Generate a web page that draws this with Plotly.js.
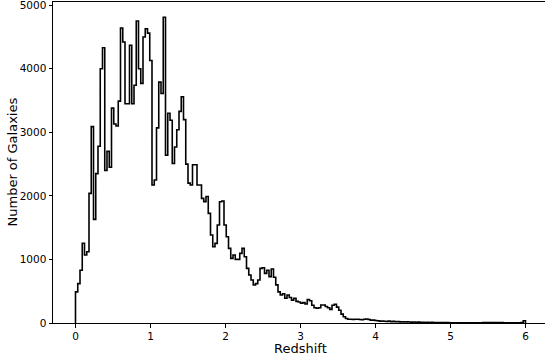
<!DOCTYPE html>
<html>
<head>
<meta charset="utf-8">
<script src="https://cdn.plot.ly/plotly-3.0.1.min.js"></script>
<style>
html,body{margin:0;padding:0;overflow:hidden;background:#fff;}
#chart{width:548px;height:360px;}
</style>
</head>
<body>
<div id="chart"></div>
<script>
// Histogram of redshift: 200 bins from 0 to 6 (width 0.03)
const binStart = 0;
const binWidth = 0.03;
const counts = [
  490, 620, 830, 1255, 1070, 1120, 2040, 3090, 1630, 2350,
  2780, 4000, 4330, 2400, 2700, 2450, 3380, 3130, 3100, 3490,
  4640, 4420, 3450, 3450, 4370, 3450, 3740, 4750, 4000, 3770,
  4500, 4630, 4560, 4130, 2170, 2250, 3070, 3790, 3610, 4810,
  2640, 3300, 3190, 2510, 2770, 3040, 3330, 3560, 3200, 2500,
  2200, 2170, 2490, 2490, 2170, 2170, 1960, 1910, 1990, 1725,
  1384, 1200, 1253, 1541, 1908, 1920, 1541, 1357, 1174, 1017,
  1069, 1001, 1001, 1096, 1174, 1043, 860, 755, 676, 597,
  620, 676, 860, 870, 780, 830, 730, 850, 720, 600,
  490, 440, 460, 390, 440, 400, 360, 390, 340, 330,
  310, 320, 300, 370, 350, 280, 240, 231, 240, 283,
  283, 260, 240, 215, 280, 294, 250, 200, 140, 99,
  70, 60, 58, 55, 58, 60, 55, 50, 58, 62,
  55, 45, 45, 40, 35, 30, 32, 28, 25, 30,
  22, 25, 20, 22, 18, 20, 16, 18, 15, 14,
  15, 12, 14, 10, 12, 9, 11, 8, 10, 7,
  9, 8, 6, 7, 8, 6, 5, 5, 4, 5,
  4, 3, 4, 4, 3, 3, 4, 3, 2, 3,
  5, 6, 8, 7, 9, 8, 6, 7, 8, 6,
  5, 4, 4, 3, 3, 2, 3, 2, 8, 35
];
const xTicks = [0, 1, 2, 3, 4, 5, 6];
const yTicks = [0, 1000, 2000, 3000, 4000, 5000];
const xLabel = "Redshift";
const yLabel = "Number of Galaxies";

// step outline (matplotlib histtype='step')
const xs = [binStart];
const ys = [0];
for (let i = 0; i < counts.length; i++) {
  xs.push(binStart + i * binWidth);
  ys.push(counts[i]);
}
xs.push(binStart + counts.length * binWidth);
ys.push(0);

const trace = {
  x: xs, y: ys, type: 'scatter', mode: 'lines',
  line: {shape: 'hv', color: '#000', width: 1.6},
  hoverinfo: 'skip'
};

const fam = 'DejaVu Sans, sans-serif';
const layout = {
  width: 548, height: 360,
  margin: {l: 53, r: 0, t: 2, b: 37},
  paper_bgcolor: '#fff', plot_bgcolor: '#fff',
  showlegend: false,
  font: {family: fam, color: '#000'},
  xaxis: {
    range: [-0.3, 6.3], tickvals: xTicks, ticktext: xTicks.map(String),
    showgrid: false, zeroline: false, showline: true, mirror: true,
    linecolor: '#000', linewidth: 1, ticks: 'outside', ticklen: 3.5,
    tickwidth: 1, tickcolor: '#000', ticklabeloverflow: 'allow',
    tickfont: {family: fam, size: 10.5, color: '#000'}
  },
  yaxis: {
    range: [0, 5050], tickvals: yTicks, ticktext: yTicks.map(String),
    showgrid: false, zeroline: false, showline: true, mirror: true,
    linecolor: '#000', linewidth: 1, ticks: 'outside', ticklen: 3.5,
    tickwidth: 1, tickcolor: '#000', ticklabeloverflow: 'allow',
    tickfont: {family: fam, size: 10.5, color: '#000'}
  },
  annotations: [
    {text: xLabel, xref: 'paper', yref: 'paper', x: 0.5, y: 0, xanchor: 'center', yanchor: 'middle',
     yshift: -25, showarrow: false, font: {family: fam, size: 13, color: '#000'}},
    {text: yLabel, xref: 'paper', yref: 'paper', x: 0, y: 0.5, xanchor: 'center', yanchor: 'middle',
     xshift: -41, textangle: -90, showarrow: false, font: {family: fam, size: 13, color: '#000'}}
  ]
};
Plotly.newPlot('chart', [trace], layout, {staticPlot: true, displayModeBar: false});
</script>
</body>
</html>
